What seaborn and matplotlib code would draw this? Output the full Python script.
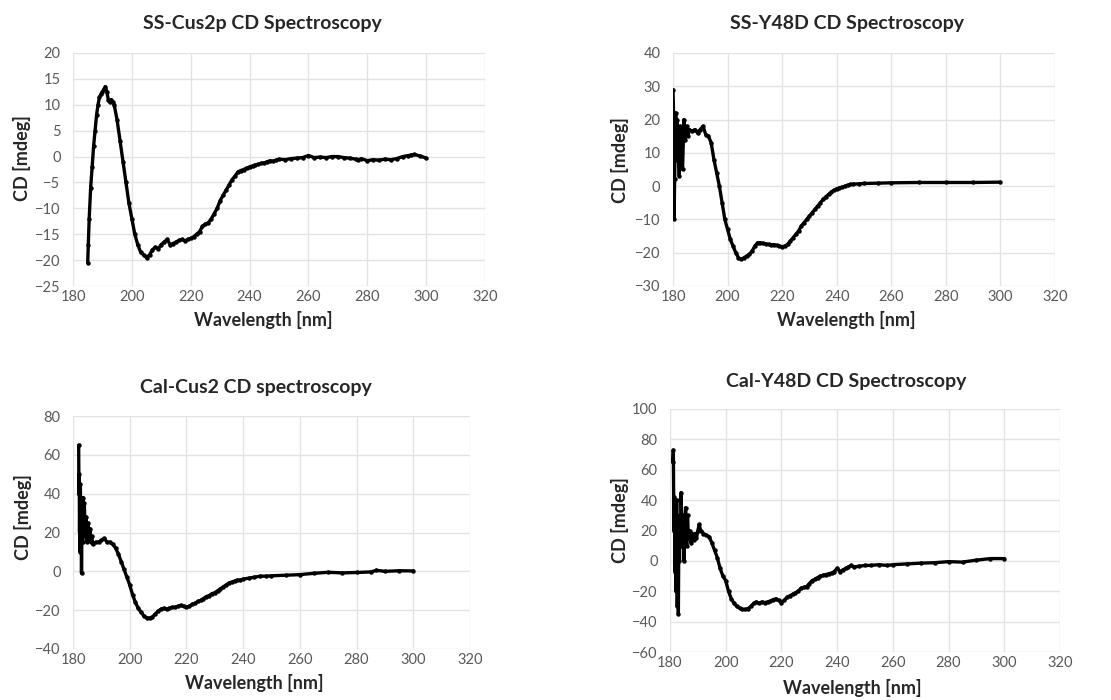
import seaborn as sns
import matplotlib.pyplot as plt
import numpy as np

## SS-Cus2p
ss_cus2p_wl = [185, 185.2, 185.5, 186, 186.5, 187, 187.5, 188, 188.5, 189, 189.5, 190, 190.5, 191,
               191.5, 192, 192.5, 193, 193.5, 194, 195, 196, 197, 198, 199, 200, 201, 202, 203, 204,
               205, 206, 207, 208, 209, 210, 211, 212, 213, 214, 215, 216, 217, 218, 219, 220, 221,
               222, 223, 224, 225, 226, 227, 228, 229, 230, 231, 232, 233, 234, 235, 236, 237, 238,
               239, 240, 241, 242, 243, 244, 245, 246, 247, 248, 249, 250, 252, 254, 256, 258, 260,
               262, 264, 266, 268, 270, 272, 274, 276, 277, 278, 280, 282, 284, 286, 288, 290, 292,
               294, 295, 296, 298, 300]
ss_cus2p_cd = [-20.5, -17, -12, -6, -2, 2, 5, 8, 10, 11.5, 12, 12.5, 13, 13.5,
               12.5, 11, 10.5, 11, 10.5, 10, 7, 3, -1, -5, -9, -12, -15, -17, -18.5, -19,
               -19.5, -19, -18, -17.5, -17.8, -17, -16.5, -16, -17, -16.8, -16.5, -16.2, -16, -16.3, -16, -15.8, -15.5,
               -15, -14.5, -13.5, -13, -12.8, -12, -11, -10, -8.5, -7.5, -6.5, -5.5, -4.5, -3.8, -3, -2.7, -2.5,
               -2.2, -2, -1.8, -1.6, -1.5, -1.3, -1.2, -1, -0.8, -0.9, -0.7, -0.5, -0.6, -0.4, -0.3, -0.2, 0.2,
               -0.2, -0.1, -0.2, 0, 0, -0.2, -0.3, -0.5, -0.6, -0.4, -0.8, -0.6, -0.7, -0.5, -0.6, -0.4, 0,
               0.2, 0.3, 0.4, 0.1, -0.3]

## SS-Y48D
ss_y48d_wl = [180, 180.2, 180.4, 180.6, 180.8, 181, 181.2, 181.5, 182, 182.3, 182.6, 183, 183.5, 184,
              184.5, 185, 185.5, 186, 187, 188, 189, 190, 191, 192, 193, 194, 195, 196, 197, 198, 199,
              200, 201, 202, 203, 204, 205, 206, 207, 208, 209, 210, 211, 212, 213, 214, 215, 216, 217,
              218, 219, 220, 221, 222, 223, 224, 225, 226, 227, 228, 229, 230, 231, 232, 233, 234, 235,
              236, 237, 238, 239, 240, 241, 242, 243, 244, 245, 246, 248, 250, 255, 260, 270, 280, 290, 300]
ss_y48d_cd = [29, 22, -10, 2, 15, 22, 8, 20, 10, 3, 18, 10, 5, 20,
              14, 18, 15, 17, 16.5, 17, 16, 17, 18, 15.5, 15, 13, 8, 4, 0, -5, -10,
              -13, -16, -18, -20, -21.5, -22, -21.5, -21, -20.5, -19.5, -18, -17, -17, -17.2, -17.4, -17.5, -17.6, -17.6,
              -17.8, -18, -18.2, -18, -17.5, -16.5, -15.5, -14.5, -13.5, -12, -11, -10, -9, -8, -7, -6, -5, -4,
              -3.2, -2.5, -1.8, -1.2, -0.8, -0.5, -0.3, 0, 0.3, 0.5, 0.6, 0.7, 0.8, 0.9, 1, 1.1, 1.1, 1.1, 1.2]

## Cal-Cus2
cal_cus2_wl = [182, 182.1, 182.2, 182.3, 182.4, 182.5, 182.6, 182.7, 182.8, 183, 183.2, 183.4, 183.6, 183.8,
               184, 184.3, 184.6, 185, 185.3, 185.6, 186, 186.3, 186.6, 187, 188, 189, 190, 191, 192, 193,
               194, 195, 196, 197, 198, 199, 200, 201, 202, 203, 204, 205, 206, 207, 208, 209, 210, 211,
               212, 213, 214, 215, 216, 217, 218, 219, 220, 221, 222, 223, 224, 225, 226, 227, 228, 229,
               230, 231, 232, 233, 234, 235, 236, 237, 238, 239, 240, 242, 244, 246, 248, 250, 255, 260,
               265, 270, 275, 280, 285, 287, 290, 295, 300]
cal_cus2_cd = [65, 40, 50, 20, 35, 10, 45, 25, 38, -1, 30, 15, 38, 20,
               35, 18, 28, 15, 25, 17, 22, 15, 18, 14, 15, 15, 16, 17, 15, 15,
               14, 12, 9, 5, 1, -3, -7, -12, -16, -19, -21, -23, -24, -24, -23.5, -22, -20.5, -19.5,
               -19, -19.5, -19, -18.5, -18.5, -18, -17.5, -18, -18.5, -18, -17, -16.5, -15.5, -15, -14, -13, -12.5, -11.5,
               -11, -10, -9, -8, -7, -6, -5.5, -5, -4.5, -4.5, -4, -3.5, -3, -2.5, -2.5, -2.3, -2, -1.7,
               -1, -0.5, -0.8, -0.6, -0.3, 0.5, 0, 0.3, 0.2]

## Cal-Y48D
cal_y48d_wl = [181, 181.2, 181.4, 181.6, 181.8, 182, 182.2, 182.4, 182.6, 182.8, 183, 183.2, 183.4, 183.6,
               183.8, 184, 184.3, 184.6, 185, 185.3, 185.6, 186, 186.3, 186.6, 187, 187.5, 188, 188.5, 189,
               189.5, 190, 190.5, 191, 192, 193, 194, 195, 196, 197, 198, 199, 200, 201, 202, 203, 204,
               205, 206, 207, 208, 209, 210, 211, 212, 213, 214, 215, 216, 217, 218, 219, 220, 221, 222,
               223, 224, 225, 226, 227, 228, 229, 230, 231, 232, 233, 234, 235, 236, 237, 238, 239, 240,
               241, 242, 243, 244, 245, 246, 248, 250, 252, 255, 258, 260, 265, 270, 275, 280, 285, 290,
               295, 300]
cal_y48d_cd = [65, 73, 20, 42, -7, 30, -20, 40, -30, 5, -35, 25, 0, 30,
               10, 45, 15, 30, 0, 20, 35, 10, 30, 15, 20, 12, 18, 14, 18,
               15, 20, 24, 20, 18, 17, 16, 12, 7, 2, -5, -10, -13, -20, -25, -28, -30,
               -31, -32, -32, -31.5, -30, -28, -27, -28, -27, -27.5, -27, -26.5, -25.5, -25, -26, -27.5, -26, -24,
               -23, -22, -21, -20, -18, -17.5, -17, -15, -13, -12, -11, -10, -9.5, -9, -8.5, -8, -7, -5,
               -7, -6, -5, -4, -3, -4, -3.5, -3, -3, -2.5, -3, -2.5, -2, -1.5, -1.2, -0.5, -0.8, 0.5,
               1.5, 1.5]

titles = ['SS-Cus2p CD Spectroscopy', 'SS-Y48D CD Spectroscopy',
          'Cal-Cus2 CD spectroscopy', 'Cal-Y48D CD Spectroscopy']

sns.set_style('white')
plt.rcParams['font.family'] = ['Lato', 'DejaVu Sans']

fig = plt.figure(figsize=(11.11, 7), dpi=100)

panels = [
    # data, axes box, y range, title pos, xlabel pos, ylabel pos (pixels)
    (ss_cus2p_wl, ss_cus2p_cd, [73, 53, 485, 286], (-25, 20, 5), (262, 23), (263, 320), (22, 158)),
    (ss_y48d_wl, ss_y48d_cd, [673, 53, 1055, 286], (-30, 40, 10), (847, 23), (846, 320), (620, 160)),
    (cal_cus2_wl, cal_cus2_cd, [73, 416, 470, 649], (-40, 80, 20), (256, 387), (254, 683), (23, 517)),
    (cal_y48d_wl, cal_y48d_cd, [670, 409, 1060, 652], (-60, 100, 20), (846, 381), (852, 688), (620, 520)),
]

W, H = 1111, 700
for (wl, cd, box, yr, tpos, xpos, ypos), title in zip(panels, titles):
    x0, y0, x1, y1 = box
    ax = fig.add_axes([x0 / W, 1 - y1 / H, (x1 - x0) / W, (y1 - y0) / H])
    sns.lineplot(x=wl, y=cd, ax=ax, color='black', linewidth=2.4, marker='o',
                 markersize=3.2, markeredgewidth=0, estimator=None, sort=False)
    ax.set_xlim(180, 320)
    ax.set_ylim(yr[0], yr[1])
    ax.set_xticks(np.arange(180, 321, 20))
    ax.set_yticks(np.arange(yr[0], yr[1] + 1, yr[2]))
    ax.grid(True, color='#e3e3e3', linewidth=1)
    ax.set_axisbelow(True)
    for s in ax.spines.values():
        s.set_visible(False)
    ax.tick_params(axis='both', length=0, labelsize=10.5, labelcolor='#595959')
    ax.tick_params(axis='y', pad=9)
    ax.tick_params(axis='x', pad=3)
    ax.set_xlabel('Wavelength [nm]', fontsize=13, fontweight='bold')
    ax.set_ylabel('CD [mdeg]', fontsize=13, fontweight='bold')
    ax.xaxis.set_label_coords(xpos[0] / W, 1 - xpos[1] / H, transform=fig.transFigure)
    ax.yaxis.set_label_coords(ypos[0] / W, 1 - ypos[1] / H, transform=fig.transFigure)
    ax.xaxis.label.set_va('center')
    ax.yaxis.label.set_va('center')
    fig.text(tpos[0] / W, 1 - tpos[1] / H, title, fontsize=14, fontweight='bold',
             ha='center', va='center')

fig.savefig('out.png', dpi=100)
